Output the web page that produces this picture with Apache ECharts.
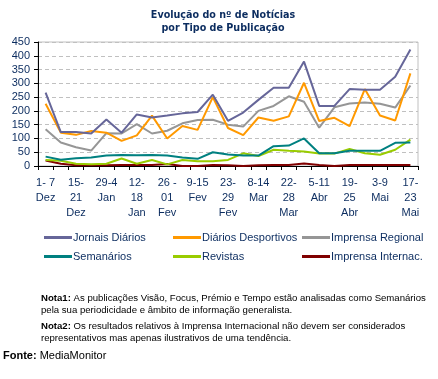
<!DOCTYPE html>
<html>
<head>
<meta charset="utf-8">
<script src="https://cdn.jsdelivr.net/npm/echarts@6/dist/echarts.min.js"></script>
<style>
html,body{margin:0;padding:0;background:#fff;}
#c{width:438px;height:379px;}
</style>
</head>
<body>
<div id="c"></div>
<script>
var categories = ["1- 7\nDez","8-14\nDez","15-\n21\nDez","22-28\nDez","29-4\nJan","5-11\nJan","12-\n18\nJan","19-25\nJan","26 -\n01\nFev","2-8\nFev","9-15\nFev","16-22\nFev","23-\n29\nFev","1-7\nMar","8-14\nMar","15-21\nMar","22-\n28\nMar","29-4\nAbr","5-11\nAbr","12-18\nAbr","19-\n25\nAbr","26-2\nMai","3-9\nMai","10-16\nMai","17-\n23\nMai"];
var yTicks = [0,50,100,150,200,250,300,350,400,450];
var jornaisDiarios = [266,123,123,118,169,121,187,176,183,191,196,259,164,194,240,284,284,379,218,218,279,277,277,324,423];
var diariosDesportivos = [226,121,113,127,121,91,111,183,100,145,131,250,138,112,176,164,180,302,163,175,145,279,183,165,336];
var imprensaRegional = [133,85,68,56,119,118,152,118,128,155,167,168,150,143,200,218,253,233,139,213,227,230,226,212,292];
var semanarios = [34,23,28,31,38,40,39,40,38,31,26,50,42,38,38,72,74,100,46,46,55,55,55,84,85];
var revistas = [22,19,8,6,8,27,8,22,6,22,17,17,22,46,36,59,55,53,45,45,62,46,41,59,96];
var imprensaInternac = [20,8,3,3,3,4,4,4,7,0,0,4,3,0,3,4,4,9,4,0,4,4,4,4,4];

var names = ["Jornais Diários","Diários Desportivos","Imprensa Regional","Semanários","Revistas","Imprensa Internac."];
var colors = ["#666699","#FF9900","#969696","#008080","#99CC00","#800000"];
var dataSets = [jornaisDiarios,diariosDesportivos,imprensaRegional,semanarios,revistas,imprensaInternac];

var navy = "#0B2C5F";
var chart = echarts.init(document.getElementById('c'), null, {renderer:'canvas'});

var legendPos = [[44,232],[173,232],[302,232],[44,251],[173,251],[302,251]];
var legends = names.map(function(n,i){
  return {
    data:[n], left:legendPos[i][0], top:legendPos[i][1], padding:0,
    icon:'rect', itemWidth:28, itemHeight:3,
    textStyle:{color:navy, fontFamily:'Liberation Sans, Arial, sans-serif', fontSize:11, padding:[0,0,0,-4]},
    selectedMode:false
  };
});

var series = names.map(function(n,i){
  return {
    name:n, type:'line', data:dataSets[i], symbol:'none',
    lineStyle:{color:colors[i], width:2}, itemStyle:{color:colors[i]},
    z: 10-i, animation:false
  };
});

chart.setOption({
  animation:false,
  title:{
    text:"Evolução do nº de Notícias\npor Tipo de Publicação",
    left:218, top:4, textAlign:'center',
    textStyle:{color:navy, fontFamily:'DejaVu Sans, sans-serif', fontWeight:'bold', fontSize:9.6, lineHeight:13}
  },
  legend:legends,
  grid:{left:38, right:20, top:42, bottom:213, show:true, borderColor:'#c0c0c0', borderWidth:1, backgroundColor:'#fff'},
  xAxis:{
    type:'category', data:categories, boundaryGap:true,
    axisLine:{lineStyle:{color:'#000', width:1}},
    axisTick:{show:true, interval:0, length:4, lineStyle:{color:'#000'}},
    axisLabel:{interval:1, color:navy, fontFamily:'Liberation Sans, Arial, sans-serif', fontSize:11, lineHeight:15, margin:9},
    splitLine:{show:false}
  },
  yAxis:{
    type:'value', min:yTicks[0], max:yTicks[yTicks.length-1], interval:50,
    axisLine:{show:true, lineStyle:{color:'#000', width:1}},
    axisTick:{show:true, length:4, lineStyle:{color:'#000'}},
    axisLabel:{color:navy, fontFamily:'Liberation Sans, Arial, sans-serif', fontSize:11, margin:8},
    splitLine:{show:true, lineStyle:{color:'#c0c0c0', type:[4,3], width:1}}
  },
  graphic:[
    {type:'text', left:41, top:293, style:{
      text:"{b|Nota1:} As publicações Visão, Focus, Prémio e Tempo estão analisadas como Semanários\npela sua periodicidade e âmbito de informação generalista.",
      fill:'#000', font:'9.6px "Liberation Sans", Arial, sans-serif', lineHeight:11.5,
      rich:{b:{fontWeight:'bold', fontSize:9.6, fontFamily:'Liberation Sans', fill:'#000', lineHeight:11.5}}
    }},
    {type:'text', left:41, top:321, style:{
      text:"{b|Nota2:} Os resultados relativos à Imprensa Internacional não devem ser considerados\nrepresentativos mas apenas ilustrativos de uma tendência.",
      fill:'#000', font:'9.6px "Liberation Sans", Arial, sans-serif', lineHeight:11.5,
      rich:{b:{fontWeight:'bold', fontSize:9.6, fontFamily:'Liberation Sans', fill:'#000', lineHeight:11.5}}
    }},
    {type:'text', left:3, top:350, style:{
      text:"{b|Fonte:} MediaMonitor",
      fill:'#000', font:'11px "Liberation Sans", Arial, sans-serif', lineHeight:12,
      rich:{b:{fontWeight:'bold', fontSize:11, fontFamily:'Liberation Sans', fill:'#000', lineHeight:12}}
    }}
  ],
  series:series
});
</script>
</body>
</html>
